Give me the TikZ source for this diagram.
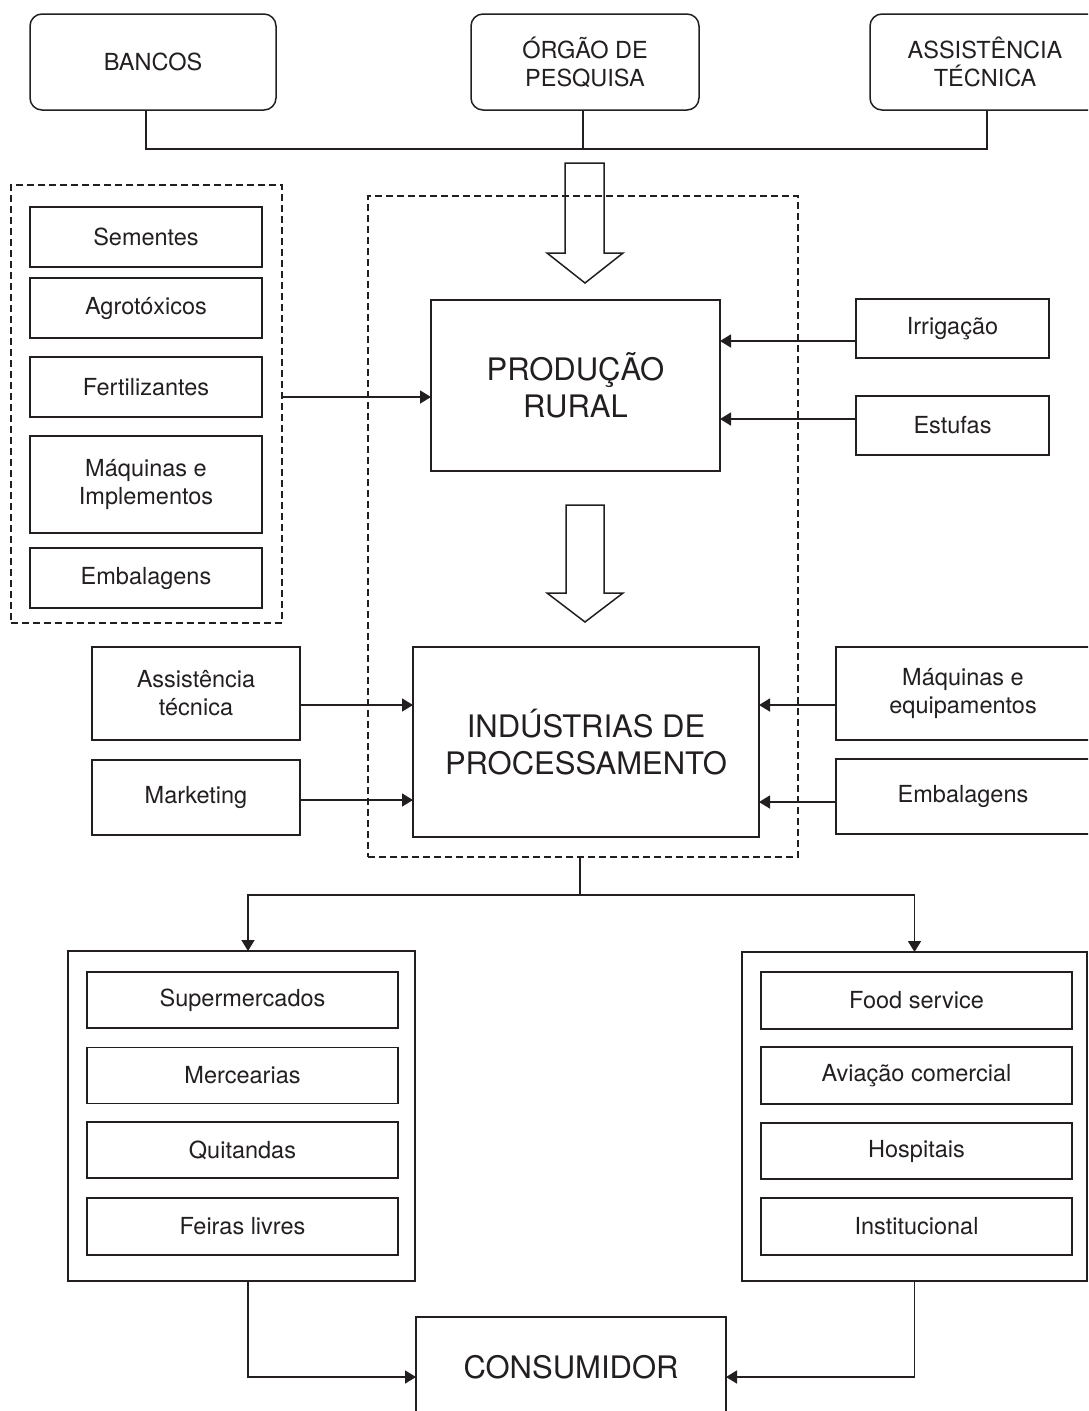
\documentclass[tikz,border=0pt]{standalone}
\usepackage{fontspec}
\setmainfont{TeX Gyre Heros}
\usetikzlibrary{arrows.meta}
\definecolor{ink}{HTML}{231F20}
\begin{document}
\begin{tikzpicture}[x=1pt,y=-1pt,
  every node/.style={inner sep=0pt, outer sep=0pt, text=ink, align=center, font=\fontsize{23.5}{28}\selectfont},
  sz/.style 2 args={minimum width=#1pt, minimum height=#2pt},
  box/.style={draw=ink, line width=1.5pt, rectangle},
  rbox/.style={box, rounded corners=12pt},
  big/.style={font=\fontsize{31}{37}\selectfont},
  dbox/.style={draw=ink, line width=1.3pt, dash pattern=on 7pt off 4pt},
  line/.style={draw=ink, line width=1.6pt},
  arr/.style={line, -{Triangle[length=11pt,width=13pt]}},
  hollow/.style={draw=ink, line width=1.5pt}
]
\useasboundingbox (0,0) rectangle (1088,1411);
\clip (0,0) rectangle (1088,1411);

% dashed groups
\node[dbox, sz={430}{661}] (cadeia) at (583,526.5) {};
\node[dbox, sz={271}{438}] (insumos) at (146.5,404) {};

% top boxes
\node[rbox, sz={246}{96}] (bancos) at (153,62) {BANCOS};
\node[rbox, sz={228}{96}] (orgao) at (585,62) {ÓRGÃO DE\\PESQUISA};
\node[rbox, sz={230}{96}] (assist) at (985,62) {ASSISTÊNCIA\\TÉCNICA};

\coordinate (hbar) at (583,149);
\draw[line] ([xshift=-7pt]bancos.south) |- (hbar) -| ([xshift=2pt]assist.south);
\draw[line] ([xshift=-2pt]orgao.south) -- (hbar);

% hollow arrows
\draw[hollow] (565,163) -- (604,163) -- (604,253) -- (623,253) -- (585,283) -- (547,253) -- (565,253) -- cycle;
\draw[hollow] (566,505) -- (604,505) -- (604,593) -- (623,593) -- (585,622) -- (547,593) -- (566,593) -- cycle;

% insumos
\node[box, sz={232}{60}] (sem) at (146,237) {Sementes};
\node[box, sz={232}{60}] (agro) at (146,308) {Agrotóxicos};
\node[box, sz={232}{60}] (fert) at (146,387) {Fertilizantes};
\node[box, sz={232}{97}] (maqimp) at (146,484.5) {Máquinas e\\Implementos};
\node[box, sz={232}{60}] (emb1) at (146,578) {Embalagens};

% central
\node[box, big, sz={289}{171}] (prod) at (575.5,385.5) {PRODUÇÃO\\RURAL};
\node[box, big, sz={346}{190}] (ind) at (586,742) {INDÚSTRIAS DE\\PROCESSAMENTO};

\node[box, sz={193}{59}] (irr) at (952.5,328.5) {Irrigação};
\node[box, sz={193}{59}] (est) at (952.5,425.5) {Estufas};

\node[box, sz={254}{93}] (maqeq) at (963,693.5) {Máquinas e\\equipamentos};
\node[box, sz={254}{75}] (emb2) at (963,796.5) {Embalagens};
\node[box, sz={208}{93}] (asstec) at (196,693.5) {Assistência\\técnica};
\node[box, sz={208}{75}] (mkt) at (196,797.5) {Marketing};

\coordinate (a1) at ([yshift=7pt]insumos.east);
\draw[arr] (a1) -- (a1 -| prod.west);
\coordinate (a2) at ([yshift=-12.5pt]irr.west);
\draw[arr] (a2) -- (a2 -| prod.east);
\coordinate (a3) at ([yshift=6.5pt]est.west);
\draw[arr] (a3) -- (a3 -| prod.east);
\coordinate (a4) at ([yshift=-11.5pt]maqeq.west);
\draw[arr] (a4) -- (a4 -| ind.east);
\coordinate (a5) at ([yshift=-5.5pt]emb2.west);
\draw[arr] (a5) -- (a5 -| ind.east);
\coordinate (a6) at ([yshift=-11.5pt]asstec.east);
\draw[arr] (a6) -- (a6 -| ind.west);
\coordinate (a7) at ([yshift=-2.5pt]mkt.east);
\draw[arr] (a7) -- (a7 -| ind.west);

% distribution
\node[box, sz={347}{330}] (varejo) at (241.5,1116) {};
\node[box, sz={345}{329}] (food) at (914.5,1116.5) {};

\node[box, sz={311}{56}] (sup) at (242.5,1000) {Supermercados};
\node[box, sz={311}{56}] (merc) at (242.5,1075.5) {Mercearias};
\node[box, sz={311}{56}] (quit) at (242.5,1150) {Quitandas};
\node[box, sz={311}{57}] (feir) at (242.5,1226.5) {Feiras livres};

\node[box, sz={311}{57}] (fs) at (916.5,1000.5) {Food service};
\node[box, sz={311}{57}] (av) at (916.5,1075.5) {Aviação comercial};
\node[box, sz={311}{56}] (hosp) at (916.5,1151) {Hospitais};
\node[box, sz={311}{57}] (inst) at (916.5,1226.5) {Institucional};

\coordinate (split) at (580,895);
\draw[line] (cadeia.south -| split) -- (split);
\draw[arr] (split) -| ([xshift=6.5pt]varejo.north);
\draw[arr] (split) -| (food.north);

\node[box, big, sz={310}{100}] (cons) at (571,1367) {CONSUMIDOR};
\draw[arr] ([xshift=6.5pt]varejo.south) |- ([yshift=-10pt]cons.west);
\draw[arr] (food.south) |- ([yshift=-10pt]cons.east);
\end{tikzpicture}
\end{document}
